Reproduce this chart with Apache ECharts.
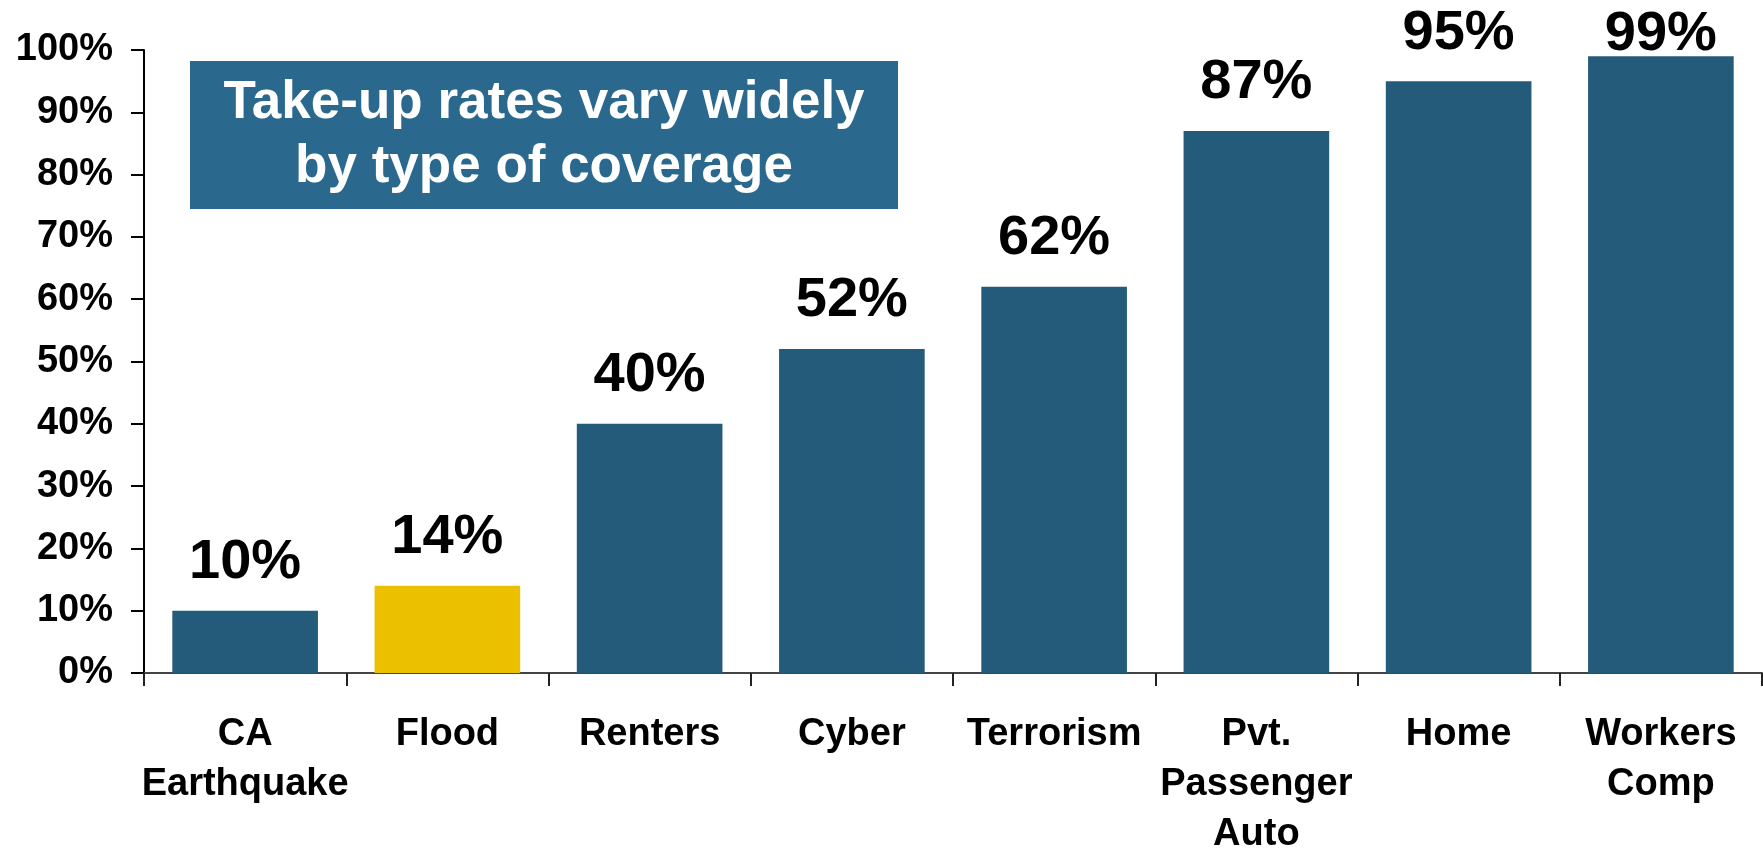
<!DOCTYPE html>
<html>
<head>
<meta charset="utf-8">
<script src="https://cdn.jsdelivr.net/npm/echarts@6/dist/echarts.min.js"></script>
<style>
  html, body { margin: 0; padding: 0; background: #fff; }
  #chart { width: 1763px; height: 852px; }
</style>
</head>
<body>
<div id="chart"></div>
<script>
const categories = ['CA\nEarthquake', 'Flood', 'Renters', 'Cyber', 'Terrorism', 'Pvt.\nPassenger\nAuto', 'Home', 'Workers\nComp'];
const takeUp = [10, 14, 40, 52, 62, 87, 95, 99];
const highlight = 'Flood';

const BLUE = '#245b7a';
const GOLD = '#ebc000';
const FONT = '"Liberation Sans", Arial, sans-serif';

const chart = echarts.init(document.getElementById('chart'), null, { renderer: 'canvas' });

chart.setOption({
  backgroundColor: '#fff',
  animation: false,
  grid: { left: 144, top: 50, right: 1, bottom: 179, containLabel: false, outerBoundsMode: 'none' },
  xAxis: {
    type: 'category',
    data: categories,
    axisLine: { lineStyle: { color: '#444', width: 2 } },
    axisTick: { show: true, length: 13, lineStyle: { color: '#222', width: 2 } },
    axisLabel: {
      color: '#000', fontFamily: FONT, fontWeight: 'bold', fontSize: 38,
      lineHeight: 50, margin: 37, interval: 0,
    },
  },
  yAxis: {
    type: 'value', min: 0, max: 100, interval: 10,
    axisLine: { show: true, lineStyle: { color: '#000', width: 2 } },
    axisTick: { show: true, length: 13, lineStyle: { color: '#000', width: 2 } },
    axisLabel: {
      color: '#000', fontFamily: FONT, fontWeight: 'bold', fontSize: 38,
      margin: 31, formatter: '{value}%',
    },
    splitLine: { show: false },
  },
  series: [{
    type: 'bar',
    barCategoryGap: '28%',
    data: takeUp.map((v, i) => ({
      value: v,
      itemStyle: { color: categories[i] === highlight ? GOLD : BLUE },
      label: i === takeUp.length - 1 ? { distance: -6 } : undefined,
    })),
    label: {
      show: true, position: 'top', distance: 20,
      color: '#000', fontFamily: FONT, fontWeight: 'bold', fontSize: 56,
      formatter: '{c}%',
    },
  }],
  graphic: [{
    type: 'group',
    left: 190, top: 61,
    children: [
      { type: 'rect', shape: { x: 0, y: 0, width: 708, height: 148 }, style: { fill: '#2a698d' } },
      {
        type: 'text', x: 354, y: 74,
        style: {
          text: 'Take-up rates vary widely\nby type of coverage',
          fill: '#fff', font: 'bold 53px ' + FONT, lineHeight: 64,
          align: 'center', verticalAlign: 'middle',
        },
      },
    ],
  }],
});
</script>
</body>
</html>
